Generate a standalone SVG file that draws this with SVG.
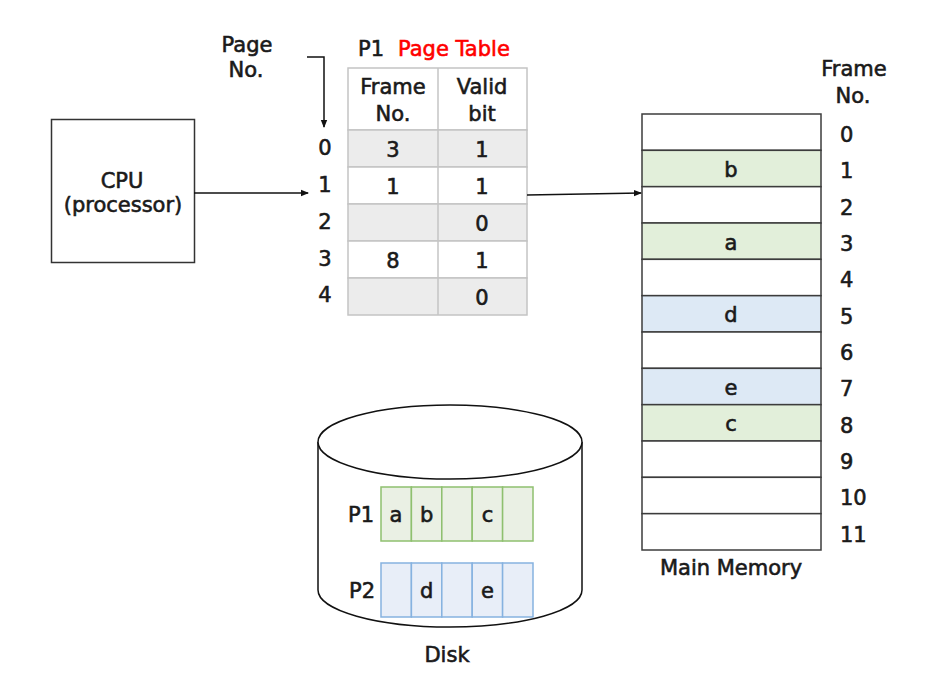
<svg xmlns="http://www.w3.org/2000/svg" width="931" height="679" viewBox="0 0 931 679">
  <style>
    text { font-family: "DejaVu Sans", "Noto Sans", sans-serif; font-size: 21px; fill: #1a1a1a; stroke: #1a1a1a; stroke-width: 0.6; }
    .c { text-anchor: middle; }
    .s { text-anchor: start; }
    .red { fill: #ff0000; stroke: #ff0000; }
    .pt { stroke: #c4c4c4; stroke-width: 1.5; }
    .gray { fill: #ececec; }
    .white { fill: #ffffff; }
    .mem { stroke: #3c3c3c; stroke-width: 1.5; }
    .mg { fill: #e2efda; }
    .mb { fill: #dde9f5; }
    .dg { fill: #eaf0e4; stroke: #8fc06f; stroke-width: 1.5; }
    .db { fill: #e8eef8; stroke: #86b2e0; stroke-width: 1.5; }
    .wire { stroke: #111; stroke-width: 1.5; fill: none; marker-end: url(#head); }
  </style>
  <defs>
    <marker id="head" viewBox="0 0 8 8" refX="7" refY="4" markerWidth="8" markerHeight="8" markerUnits="userSpaceOnUse" orient="auto">
      <path d="M0,0.8 L8,4 L0,7.2 Z" fill="#111"/>
    </marker>
  </defs>

  <!-- CPU -->
  <g id="cpu">
    <rect x="51.5" y="119.5" width="143" height="143" fill="#fff" stroke="#333" stroke-width="1.5"/>
    <text class="c" x="122" y="188">CPU</text>
    <text class="c" x="123" y="212">(processor)</text>
  </g>

  <!-- Page number labels -->
  <g id="page-no">
    <text class="c" x="247" y="52">Page</text>
    <text class="c" x="246" y="77">No.</text>
    <text class="c" x="325" y="155">0</text>
    <text class="c" x="325" y="192">1</text>
    <text class="c" x="325" y="229">2</text>
    <text class="c" x="325" y="266">3</text>
    <text class="c" x="325" y="302">4</text>
  </g>

  <!-- P1 page table -->
  <g id="page-table">
    <text x="358" y="56">P1</text>
    <text class="red" x="398" y="56">Page Table</text>
    <rect class="pt white" x="348" y="68" width="179" height="62"/>
    <rect class="pt gray" x="348" y="130" width="179" height="37"/>
    <rect class="pt white" x="348" y="167" width="179" height="37"/>
    <rect class="pt gray" x="348" y="204" width="179" height="37"/>
    <rect class="pt white" x="348" y="241" width="179" height="37"/>
    <rect class="pt gray" x="348" y="278" width="179" height="37"/>
    <line class="pt" x1="438" y1="68" x2="438" y2="315"/>
    <text class="c" x="393" y="94">Frame</text>
    <text class="c" x="393" y="121">No.</text>
    <text class="c" x="482" y="94">Valid</text>
    <text class="c" x="482" y="121">bit</text>
    <text class="c" x="393" y="157">3</text>
    <text class="c" x="482" y="157">1</text>
    <text class="c" x="393" y="194">1</text>
    <text class="c" x="482" y="194">1</text>
    <text class="c" x="482" y="231">0</text>
    <text class="c" x="393" y="268">8</text>
    <text class="c" x="482" y="268">1</text>
    <text class="c" x="482" y="305">0</text>
  </g>

  <!-- Main memory frames -->
  <g id="main-memory">
    <rect class="mem white" x="642" y="114" width="179" height="36.33"/>
    <rect class="mem mg" x="642" y="150.33" width="179" height="36.33"/>
    <rect class="mem white" x="642" y="186.67" width="179" height="36.33"/>
    <rect class="mem mg" x="642" y="223" width="179" height="36.33"/>
    <rect class="mem white" x="642" y="259.33" width="179" height="36.33"/>
    <rect class="mem mb" x="642" y="295.67" width="179" height="36.33"/>
    <rect class="mem white" x="642" y="332" width="179" height="36.33"/>
    <rect class="mem mb" x="642" y="368.33" width="179" height="36.33"/>
    <rect class="mem mg" x="642" y="404.67" width="179" height="36.33"/>
    <rect class="mem white" x="642" y="441" width="179" height="36.33"/>
    <rect class="mem white" x="642" y="477.33" width="179" height="36.33"/>
    <rect class="mem white" x="642" y="513.67" width="179" height="36.33"/>
    <text class="c" x="731" y="177">b</text>
    <text class="c" x="731" y="250">a</text>
    <text class="c" x="731" y="322">d</text>
    <text class="c" x="731" y="395">e</text>
    <text class="c" x="731" y="431">c</text>
    <text class="c" x="731" y="575">Main Memory</text>
  </g>

  <!-- Frame number labels -->
  <g id="frame-no">
    <text class="c" x="854" y="76">Frame</text>
    <text class="c" x="853" y="103">No.</text>
    <text class="s" x="840" y="142">0</text>
    <text class="s" x="840" y="178">1</text>
    <text class="s" x="840" y="215">2</text>
    <text class="s" x="840" y="251">3</text>
    <text class="s" x="840" y="287">4</text>
    <text class="s" x="840" y="324">5</text>
    <text class="s" x="840" y="360">6</text>
    <text class="s" x="840" y="396">7</text>
    <text class="s" x="840" y="433">8</text>
    <text class="s" x="840" y="469">9</text>
    <text class="s" x="840" y="505">10</text>
    <text class="s" x="840" y="542">11</text>
  </g>

  <!-- Disk -->
  <g id="disk">
    <path d="M318,442 V590 A132,37 0 0 0 582,590 V442" fill="#fff" stroke="#111" stroke-width="1.5"/>
    <ellipse cx="450" cy="442" rx="132" ry="37" fill="#fff" stroke="#111" stroke-width="1.5"/>
    <text class="c" x="361" y="522">P1</text>
    <rect class="dg" x="381" y="487" width="30.4" height="54"/>
    <rect class="dg" x="411.4" y="487" width="30.4" height="54"/>
    <rect class="dg" x="441.8" y="487" width="30.4" height="54"/>
    <rect class="dg" x="472.2" y="487" width="30.4" height="54"/>
    <rect class="dg" x="502.6" y="487" width="30.4" height="54"/>
    <text class="c" x="396" y="522">a</text>
    <text class="c" x="426.6" y="522">b</text>
    <text class="c" x="487.4" y="522">c</text>
    <text class="c" x="362" y="598">P2</text>
    <rect class="db" x="381" y="563" width="30.4" height="54"/>
    <rect class="db" x="411.4" y="563" width="30.4" height="54"/>
    <rect class="db" x="441.8" y="563" width="30.4" height="54"/>
    <rect class="db" x="472.2" y="563" width="30.4" height="54"/>
    <rect class="db" x="502.6" y="563" width="30.4" height="54"/>
    <text class="c" x="426.6" y="598">d</text>
    <text class="c" x="487.4" y="598">e</text>
    <text class="c" x="447" y="662">Disk</text>
  </g>

  <!-- Connectors -->
  <g id="connectors">
    <path class="wire" d="M194,193 H308"/>
    <path class="wire" d="M307,57 H324 V127"/>
    <path class="wire" d="M527,195 L641,193"/>
  </g>
</svg>
